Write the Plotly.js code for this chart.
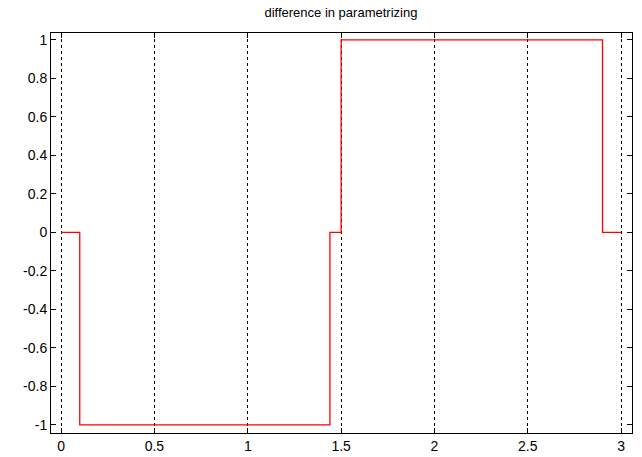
<!DOCTYPE html>
<html><head><meta charset="utf-8">
<script src="https://cdn.plot.ly/plotly-3.0.1.min.js"></script>
<style>html,body{margin:0;padding:0;background:#fff;}#chart{width:642px;height:457px;}</style>
</head><body><div id="chart"></div>
<script>
const xValues = [0, 0.1, 1.44, 1.5, 2.9, 3.0];
const yValues = [0, -1, 0, 1, 0, 0];
const xTicks = [0, 0.5, 1, 1.5, 2, 2.5, 3];
const xTickLabels = ['0', '0.5', '1', '1.5', '2', '2.5', '3'];
const yTicks = [-1, -0.8, -0.6, -0.4, -0.2, 0, 0.2, 0.4, 0.6, 0.8, 1];
const yTickLabels = ['-1', '-0.8', '-0.6', '-0.4', '-0.2', '0', '0.2', '0.4', '0.6', '0.8', '1'];

const trace = {
  x: xValues, y: yValues, type: 'scatter', mode: 'lines',
  line: {shape: 'hv', color: '#ff0000', width: 1.3}, hoverinfo: 'none'
};
const font = {family: 'Liberation Sans, Arial, sans-serif', size: 14, color: '#000'};
const layout = {
  width: 642, height: 457,
  margin: {l: 51, r: 10, t: 33, b: 24, pad: 0},
  paper_bgcolor: '#fff', plot_bgcolor: '#fff',
  showlegend: false,
  font: font,
  title: {text: 'difference in parametrizing', font: {family: font.family, size: 13, color: '#000'},
          x: 0.531, xanchor: 'center', y: 0.973, yanchor: 'middle'},
  xaxis: {
    range: [-0.054, 3.058], tickvals: xTicks, ticktext: xTickLabels,
    ticks: 'inside', ticklen: 5, tickcolor: '#000', tickwidth: 1,
    showline: true, linecolor: '#000', linewidth: 1, mirror: 'ticks',
    showgrid: true, gridcolor: '#000', gridwidth: 1, griddash: '3px,3px',
    zeroline: false, tickfont: font
  },
  yaxis: {
    range: [-1.042, 1.036], tickvals: yTicks, ticktext: yTickLabels,
    ticks: 'inside', ticklen: 5, tickcolor: '#000', tickwidth: 1,
    showline: true, linecolor: '#000', linewidth: 1, mirror: 'ticks',
    showgrid: false, zeroline: false, tickfont: font
  }
};
Plotly.newPlot('chart', [trace], layout, {staticPlot: true, displayModeBar: false});
</script></body></html>
